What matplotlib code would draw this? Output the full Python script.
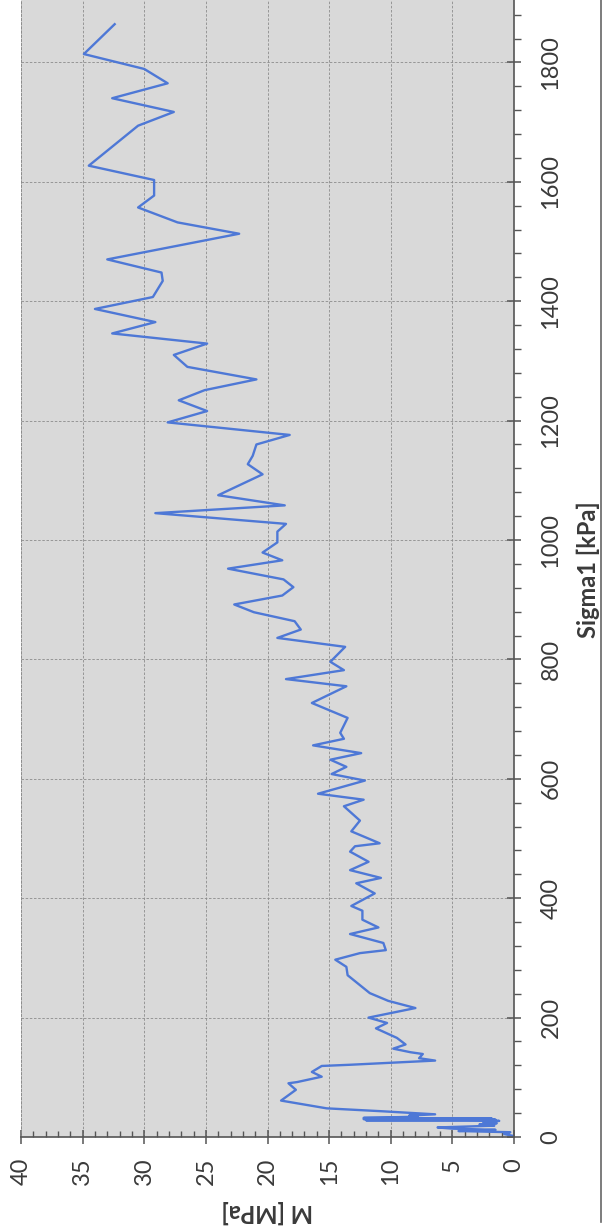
import numpy as np
import matplotlib
matplotlib.use("Agg")
import matplotlib.pyplot as plt
from matplotlib.ticker import MultipleLocator
from matplotlib.lines import Line2D

plt.rcParams['font.family'] = ['Lato', 'DejaVu Sans']

sigma1 = [2, 5, 8, 10, 12, 14, 16, 19, 21, 23, 25, 27, 28, 29, 30, 31, 32, 34, 36, 38,
          43, 48, 61, 79, 90, 92, 101, 109, 119, 121, 128, 132, 139, 142, 148, 155, 166,
          182, 191, 200, 216, 228, 241, 246, 271, 285, 297, 308, 313, 325, 340, 351, 364,
          379, 387, 408, 425, 434, 447, 461, 478, 487, 492, 512, 530, 554, 565, 575, 597,
          608, 620, 632, 643, 656, 667, 677, 702, 727, 755, 767, 782, 796, 821, 836, 850,
          864, 879, 892, 907, 921, 934, 952, 966, 979, 996, 1014, 1027, 1045, 1058, 1075,
          1110, 1127, 1141, 1160, 1176, 1197, 1216, 1234, 1251, 1269, 1290, 1310, 1329,
          1346, 1365, 1387, 1407, 1434, 1448, 1470, 1513, 1532, 1557, 1577, 1603, 1627,
          1694, 1717, 1740, 1765, 1789, 1814, 1864]
M = [0.1, 0.8, 0.3, 4.5, 1.5, 5.0, 6.2, 1.6, 2.8, 1.4, 2.5, 1.2, 12.0, 1.5, 12.2, 1.8, 12.2, 7.8, 8.5, 6.4,
     10.6, 15.2, 18.9, 17.7, 18.3, 17.6, 15.6, 16.4, 15.6, 13.3, 6.4, 7.7, 7.4, 8.4, 9.8, 8.8, 9.5,
     11.2, 10.3, 11.8, 8.0, 10.2, 11.7, 12.0, 13.5, 13.6, 14.5, 12.5, 10.4, 10.6, 13.3, 11.0, 12.3,
     12.3, 13.2, 11.3, 12.8, 10.8, 13.3, 11.8, 13.3, 12.9, 10.9, 13.2, 12.5, 13.8, 12.2, 15.9, 12.1,
     14.8, 13.6, 14.9, 12.4, 16.3, 13.8, 14.1, 13.5, 16.4, 13.6, 18.5, 13.8, 14.9, 13.7, 19.2, 17.3,
     17.8, 21.1, 22.7, 18.8, 17.9, 18.7, 23.2, 18.8, 20.4, 19.2, 19.2, 18.5, 29.1, 18.6, 24.0,
     20.4, 21.6, 21.2, 20.9, 18.2, 28.1, 24.9, 27.2, 25.1, 20.9, 26.5, 27.6, 24.9,
     32.6, 29.1, 34.0, 29.3, 28.5, 28.6, 33.0, 22.3, 27.3, 30.5, 29.2, 29.2, 34.5,
     30.5, 27.6, 32.6, 28.1, 30.0, 34.9, 32.4]

m_ticks = [0, 5, 10, 15, 20, 25, 30, 35, 40]
sigma_ticks = [0, 200, 400, 600, 800, 1000, 1200, 1400, 1600, 1800]

W, H = 611, 1232
fig = plt.figure(figsize=(W / 100, H / 100), dpi=100)
fig.patch.set_facecolor('white')

# plot area in pixels: M=40 at x=21, M=0 at x=514, sigma=0 at y=1137, top of page at y=0
ax = fig.add_axes([21 / W, (H - 1137) / H, (514 - 21) / W, 1137 / H])
ax.set_facecolor('#d9d9d9')

ax.plot(M, sigma1, color='#4e78d6', lw=1.7)

ax.set_xlim(40, 0)
ax.set_ylim(0, 1137 / 0.597)

ax.set_xticks(m_ticks)
ax.set_yticks(sigma_ticks)
ax.xaxis.set_minor_locator(MultipleLocator(1))
ax.yaxis.set_minor_locator(MultipleLocator(40))
ax.yaxis.tick_right()

ax.grid(True, which='major', color='#8c8c8c', lw=0.6, linestyle=(0, (3, 2)))

ax.tick_params(axis='both', which='major', direction='inout', length=10, width=1.1,
               color='#555555', labelsize=17, labelcolor='#3a3a3a')
ax.tick_params(axis='both', which='minor', direction='in', length=4, width=1.0, color='#555555')
ax.tick_params(axis='x', which='major', labelrotation=90, pad=10)
ax.tick_params(axis='y', which='major', labelrotation=90, pad=14)
ax.tick_params(axis='y', which='minor', direction='out', length=5)
for lab in ax.get_yticklabels():
    lab.set_va('center')

ax.spines['top'].set_visible(False)
ax.spines['left'].set_linestyle((0, (3, 2)))
ax.spines['left'].set_color('#8c8c8c')
ax.spines['left'].set_linewidth(0.6)
for side in ['bottom', 'right']:
    ax.spines[side].set_color('#555555')
    ax.spines[side].set_linewidth(1.2)

fig.text(267 / W, 1 - 1212 / H, 'M [MPa]', rotation=180, ha='center', va='center',
         fontsize=17, fontweight='bold', color='#3a3a3a')
fig.text(588 / W, 1 - 570 / H, 'Sigma1 [kPa]', rotation=90, ha='center', va='center',
         fontsize=17, fontweight='bold', color='#3a3a3a')

# page edge of the scan
fig.add_artist(Line2D([601 / W, 601 / W], [1 - 1222 / H, 1], color='#666666', lw=1.2))

fig.savefig('out.png', dpi=100)
